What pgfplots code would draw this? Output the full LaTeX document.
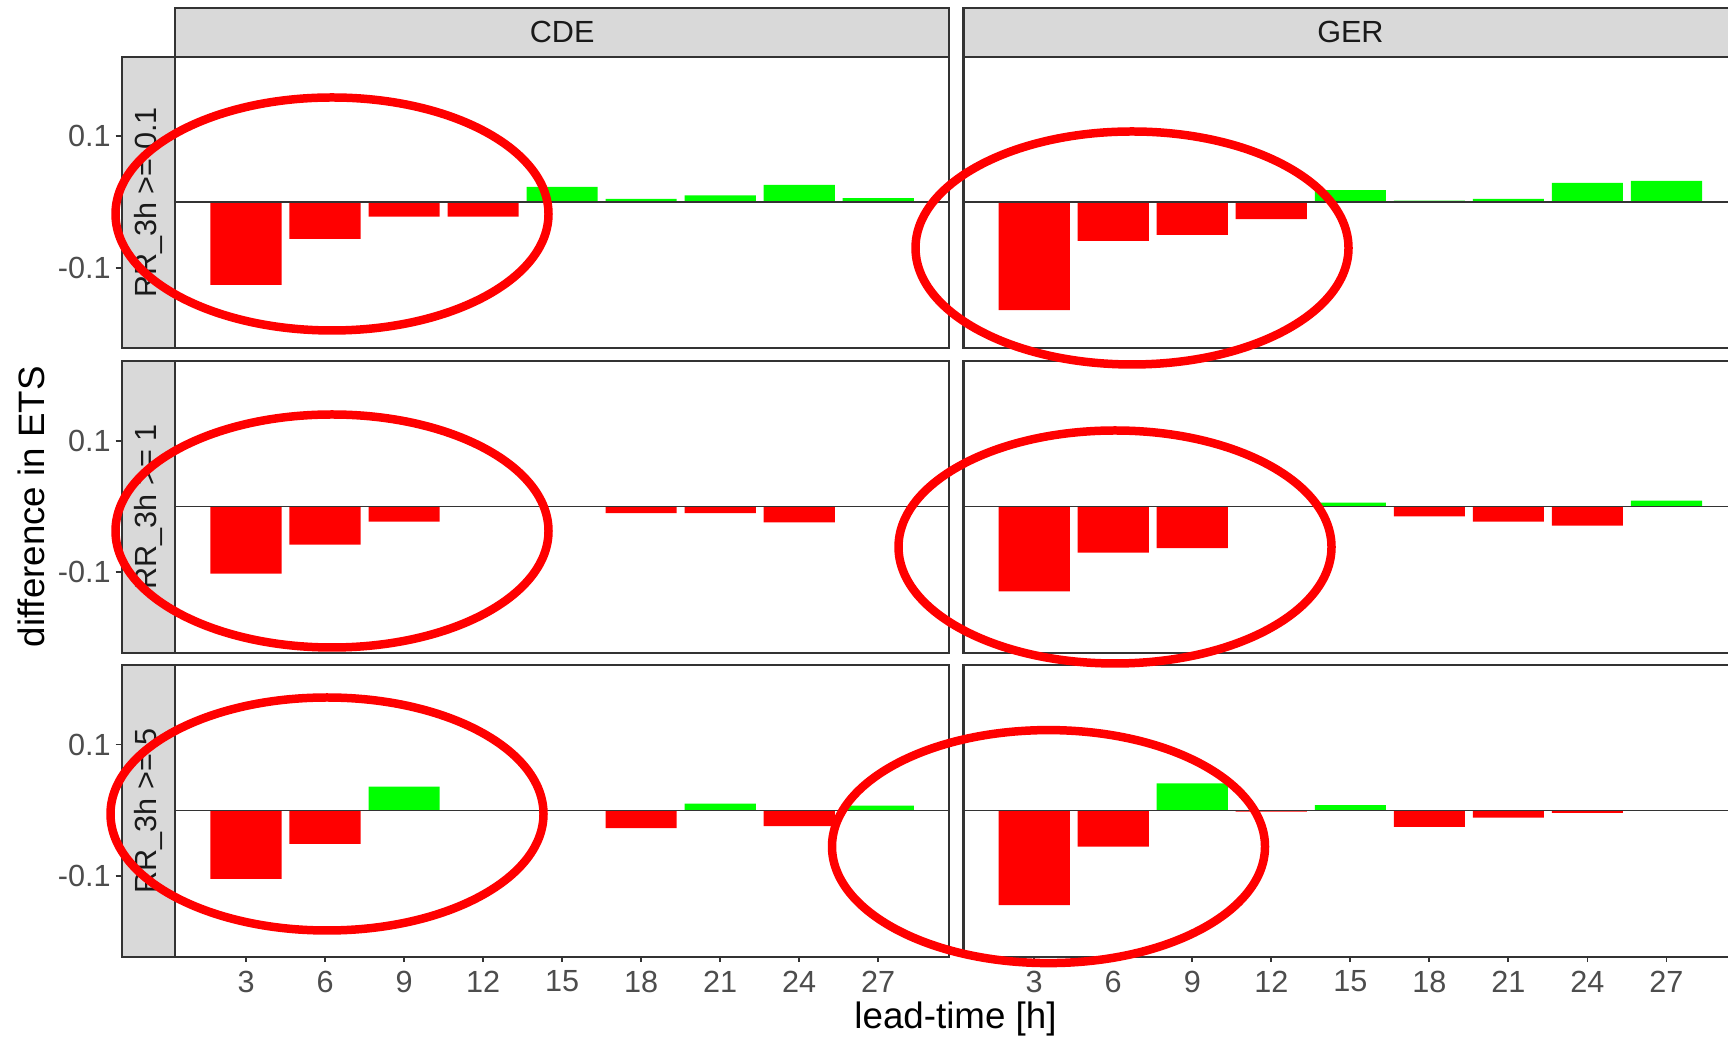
\documentclass[border=0pt]{standalone}
\usepackage{pgfplots}
\pgfplotsset{compat=1.18}
\usepackage{pgfplotstable}
\usepackage{fontspec}
\setmainfont{Liberation Sans}
\definecolor{stripfill}{HTML}{D9D9D9}
\definecolor{bord}{HTML}{333333}
\definecolor{ticktext}{HTML}{4D4D4D}
\definecolor{striptext}{HTML}{1A1A1A}
\definecolor{barred}{HTML}{FF0000}
\definecolor{bargreen}{HTML}{00FF00}

% lead-time [h], CDE, GER
\pgfplotstableread{
h cde ger
3  -0.126 -0.164
6  -0.056 -0.059
9  -0.022 -0.050
12 -0.022 -0.026
15  0.023  0.018
18  0.005  0.002
21  0.010  0.005
24  0.026  0.029
27  0.006  0.032
}\rowA
\pgfplotstableread{
h cde ger
3  -0.102 -0.129
6  -0.058 -0.070
9  -0.023 -0.063
12  0.000  0.000
15  0.001  0.006
18 -0.010 -0.015
21 -0.010 -0.023
24 -0.024 -0.029
27  0.000  0.009
}\rowB
\pgfplotstableread{
h cde ger
3  -0.104 -0.144
6  -0.051 -0.055
9   0.036  0.041
12 -0.001 -0.002
15  0.000  0.008
18 -0.027 -0.025
21  0.010 -0.011
24 -0.024 -0.004
27  0.007  0.000
}\rowC

\pgfplotsset{
  panel/.style={scale only axis, width=214.92pt, height=81.03pt, anchor=north west,
    xmin=0.315, xmax=29.685, ymin=-0.2223, ymax=0.2208,
    xtick=\empty, ytick=\empty,
    axis line style={draw=bord, line width=0.6pt},
    /pgf/number format/assume math mode=true,
    tick align=outside, major tick length=1.5pt,
    major tick style={draw=bord, line width=0.5pt},
    xticklabel style={font=\fontsize{8.5}{10}\selectfont, text=ticktext, inner sep=0pt, yshift=-2.2pt},
  },
  bottompanel/.style={panel, xtick={3,6,...,27}, xtick pos=bottom},
  rowstrip/.style={scale only axis, width=14.89pt, height=81.03pt, anchor=north west,
    xmin=0, xmax=1, ymin=-0.2223, ymax=0.2208,
    xtick=\empty, ytick={-0.1,0.1}, yticklabels={-0.1,0.1}, ytick pos=left,
    tick align=outside, major tick length=1.7pt,
    major tick style={draw=bord, line width=0.5pt},
    axis line style={draw=bord, line width=0.6pt},
    axis background/.style={fill=stripfill},
    yticklabel style={font=\fontsize{8.5}{10}\selectfont, text=ticktext, inner sep=0pt, xshift=-1.2pt},
  },
  negbar/.style={ybar, bar width=2.7, bar shift=0pt, fill=barred, draw=none, restrict y to domain=-1:0},
  posbar/.style={ybar, bar width=2.7, bar shift=0pt, fill=bargreen, draw=none, restrict y to domain=0.00001:1},
  zeroline/.style={draw=bord, line width=0.4pt, mark=none},
}

\newcommand{\panelplots}[2]{%
  \addplot[negbar] table[x=h, y=#2] {#1};
  \addplot[posbar] table[x=h, y=#2] {#1};
  \addplot[zeroline] coordinates {(0.315,0) (29.685,0)};
}

\begin{document}
\begin{tikzpicture}
\begin{scope}[x=0.27778pt, y=-0.27778pt]
% column strips
\filldraw[fill=stripfill, draw=bord, line width=0.6pt] (175.3,8) rectangle (949.0,56.7);
\filldraw[fill=stripfill, draw=bord, line width=0.6pt] (963.5,8) rectangle (1737.2,56.7);
\node[font=\fontsize{8.5}{10}\selectfont, text=striptext] at (562.2,32.4) {CDE};
\node[font=\fontsize{8.5}{10}\selectfont, text=striptext] at (1350.4,32.4) {GER};
\end{scope}

% row 1
\begin{axis}[rowstrip, at={(33.81pt,-15.75pt)}]
\node[rotate=90, font=\fontsize{8.5}{10}\selectfont, text=striptext] at (rel axis cs:0.5,0.5) {RR\_3h >= 0.1};
\end{axis}
\begin{axis}[panel, at={(48.69pt,-15.75pt)}]
\panelplots{\rowA}{cde}
\end{axis}
\begin{axis}[panel, at={(267.64pt,-15.75pt)}]
\panelplots{\rowA}{ger}
\end{axis}

% row 2
\begin{axis}[rowstrip, at={(33.81pt,-100.33pt)}]
\node[rotate=90, font=\fontsize{8.5}{10}\selectfont, text=striptext] at (rel axis cs:0.5,0.5) {RR\_3h >= 1};
\end{axis}
\begin{axis}[panel, at={(48.69pt,-100.33pt)}]
\panelplots{\rowB}{cde}
\end{axis}
\begin{axis}[panel, at={(267.64pt,-100.33pt)}]
\panelplots{\rowB}{ger}
\end{axis}

% row 3
\begin{axis}[rowstrip, at={(33.81pt,-184.72pt)}]
\node[rotate=90, font=\fontsize{8.5}{10}\selectfont, text=striptext] at (rel axis cs:0.5,0.5) {RR\_3h >= 5};
\end{axis}
\begin{axis}[bottompanel, at={(48.69pt,-184.72pt)}]
\panelplots{\rowC}{cde}
\end{axis}
\begin{axis}[bottompanel, at={(267.64pt,-184.72pt)}]
\panelplots{\rowC}{ger}
\end{axis}

\begin{scope}[x=0.27778pt, y=-0.27778pt]
% axis titles
\node[rotate=90, font=\fontsize{10.2}{12}\selectfont] at (31,506.7) {difference in ETS};
\node[font=\fontsize{10.2}{12}\selectfont] at (955.5,1019) {lead-time [h]};
% red annotation ellipses
\begin{scope}[draw=barred, line width=2.36pt]
\draw (332,214) ellipse [x radius=216.5, y radius=116.5];
\draw (1132,248) ellipse [x radius=216.5, y radius=116.5];
\draw (332,531) ellipse [x radius=216.5, y radius=116.5];
\draw (1115,547) ellipse [x radius=216.5, y radius=116.5];
\draw (327,814) ellipse [x radius=216.5, y radius=116.5];
\draw (1048.5,846.6) ellipse [x radius=216.5, y radius=116.5];
\end{scope}
\pgfresetboundingbox
\useasboundingbox (0,0) rectangle (1728,1038);
\end{scope}
\end{tikzpicture}
\end{document}
